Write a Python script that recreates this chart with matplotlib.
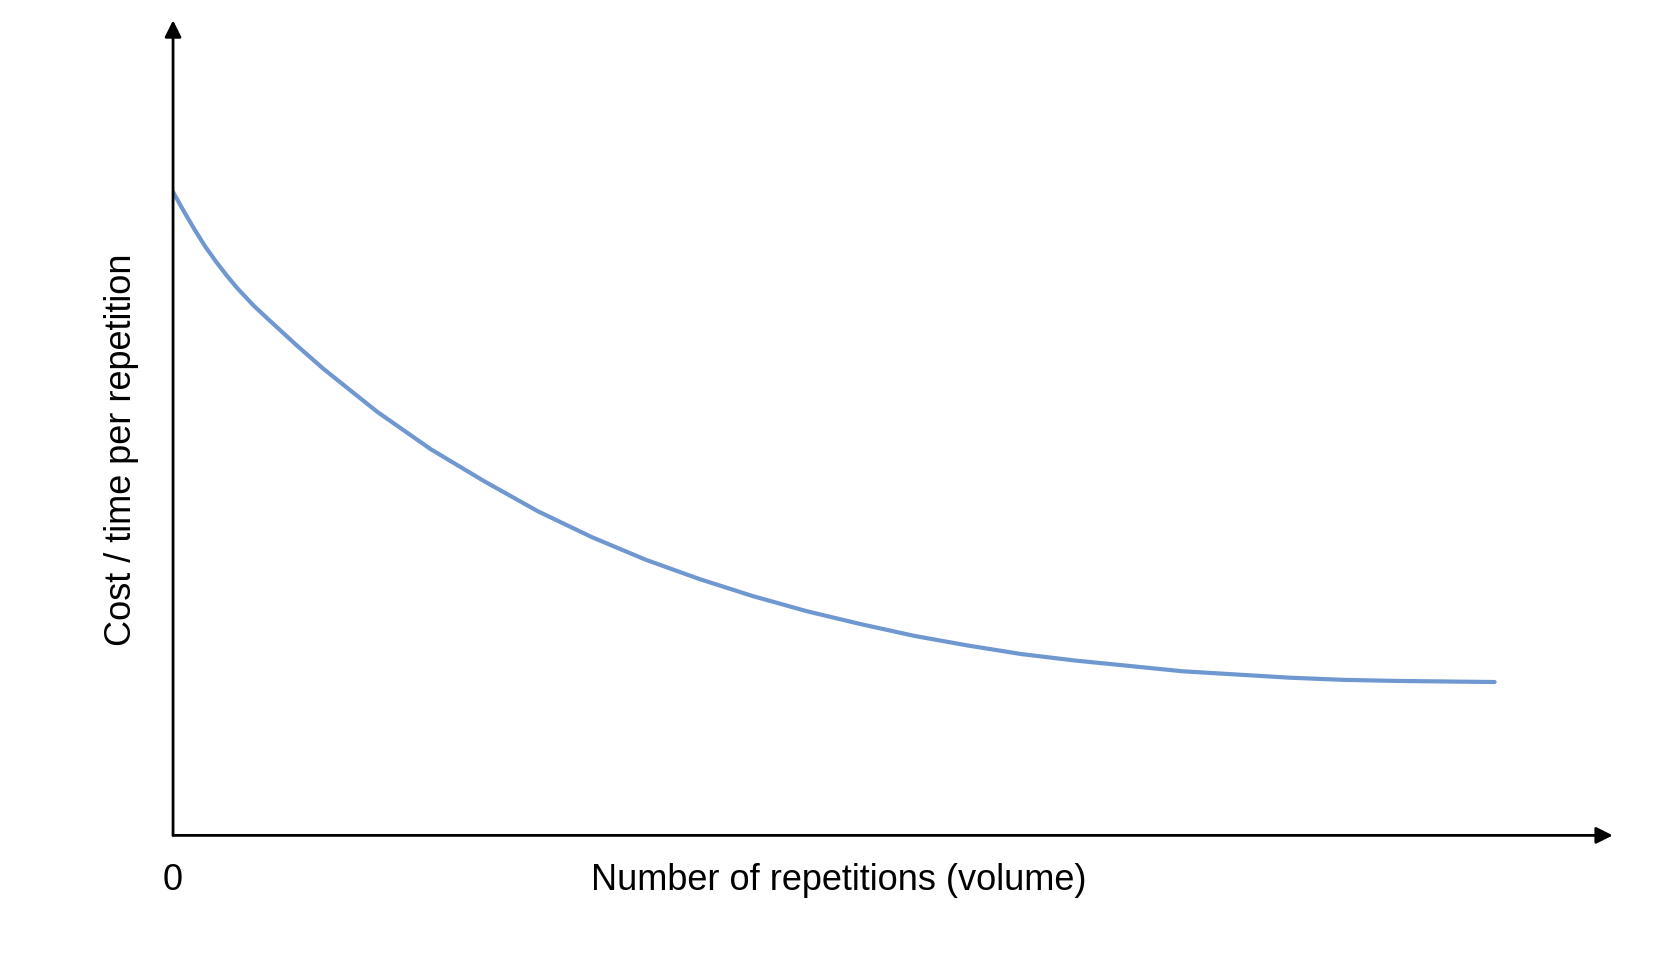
import matplotlib
matplotlib.use("Agg")
import matplotlib.pyplot as plt

volume = [0, 10, 20, 30, 40, 50, 60, 75, 90, 115, 140, 190, 240, 290, 340, 390, 440, 490,
          540, 590, 640, 690, 740, 790, 840, 890, 940, 990, 1040, 1090, 1140, 1230]
cost = [600, 582, 565, 549, 535, 522, 510, 494, 480, 457, 435, 395, 360, 330, 302, 278, 257, 239,
        223, 209, 197, 186, 177, 169, 163, 158, 153, 150, 147, 145, 144, 143]
x_label = "Number of repetitions (volume)"
y_label = "Cost / time per repetition"
origin_label = "0"

plt.rcParams['font.family'] = ['Liberation Sans', 'DejaVu Sans']
fig = plt.figure(figsize=(16.8, 9.68), dpi=100)
ax = fig.add_axes([0.103, 0.137, 0.857, 0.842])
ax.set_xlim(0, 1340)
ax.set_ylim(0, 760)
ax.plot(volume, cost, color='#6f97d0', lw=3, solid_capstyle='round')
for s in ax.spines.values():
    s.set_visible(False)
ax.set_xticks([]); ax.set_yticks([])
ax.annotate('', xy=(1340, 0), xytext=(0, 0), xycoords='data',
            arrowprops=dict(arrowstyle='-|>', color='black', lw=2, mutation_scale=25, shrinkA=0, shrinkB=0))
ax.annotate('', xy=(0, 760), xytext=(0, 0), xycoords='data',
            arrowprops=dict(arrowstyle='-|>', color='black', lw=2, mutation_scale=25, shrinkA=0, shrinkB=0))
ax.text(0, -26, origin_label, ha='center', va='top', fontsize=26, fontweight='medium')
ax.text(620, -26, x_label, ha='center', va='top', fontsize=26, fontweight='medium')
ax.text(-48, 360, y_label, ha='center', va='center', rotation=90, fontsize=26, fontweight='medium')
fig.savefig('out.png', dpi=100)
